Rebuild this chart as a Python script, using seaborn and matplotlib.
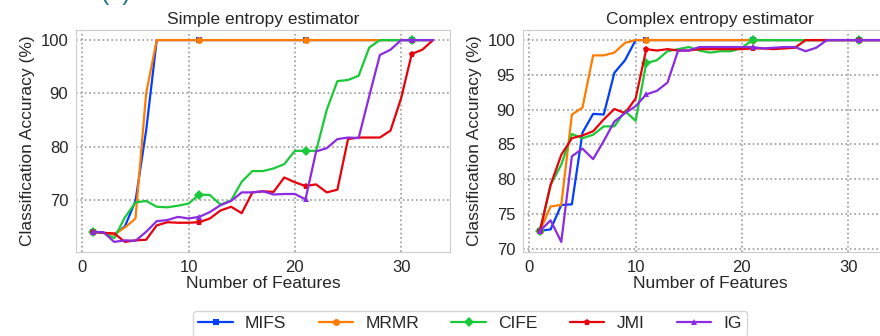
import matplotlib
matplotlib.use("Agg")
import matplotlib.pyplot as plt
import seaborn as sns

# number of selected features (x axis)
features = list(range(1, 34))

methods = ["MIFS", "MRMR", "CIFE", "JMI", "IG"]

# simple entropy estimator
mifs_simple = [64.0, 63.8, 63.5, 65.0, 69.8, 83.0, 100] + [100] * 26
mrmr_simple = [64.0, 63.8, 63.5, 64.8, 66.5, 90.0, 100] + [100] * 26
cife_simple = [64.0, 63.8, 62.8, 66.7, 69.5, 69.8, 68.7, 68.6, 68.9, 69.3, 71.0,
               70.9, 69.1, 69.9, 73.4, 75.4, 75.4, 75.9, 76.7, 79.2, 79.2, 79.2,
               86.9, 92.3, 92.5, 93.3, 98.6, 100, 100, 100, 100, 100, 100]
jmi_simple = [64.0, 63.8, 63.7, 62.1, 62.4, 62.5, 65.2, 65.8, 65.7, 65.7, 65.8,
              66.5, 68.0, 68.7, 67.5, 71.4, 71.6, 71.5, 74.2, 73.3, 72.6, 72.9,
              71.4, 71.9, 81.4, 81.7, 81.7, 81.7, 83.0, 89.1, 97.4, 98.2, 100]
ig_simple = [64.0, 63.9, 62.1, 62.4, 62.3, 64.0, 66.0, 66.2, 66.8, 66.5, 66.8,
             67.7, 69.0, 69.8, 71.4, 71.4, 71.6, 71.0, 71.1, 71.1, 70.1, 79.1,
             79.7, 81.4, 81.7, 81.6, 89.5, 97.2, 98.2, 100, 100, 100, 100]

# complex entropy estimator
mifs_complex = [72.6, 72.8, 76.3, 76.4, 86.7, 89.4, 89.3, 95.3, 97.1, 100] + [100] * 23
mrmr_complex = [72.6, 76.1, 76.3, 89.3, 90.3, 97.8, 97.8, 98.2, 99.6, 100] + [100] * 23
cife_complex = [72.6, 79.2, 82.1, 86.5, 85.9, 86.4, 87.6, 87.6, 89.8, 88.4, 96.7,
                97.1, 98.4, 98.7, 99.0, 98.5, 98.2, 98.4, 98.4, 98.9, 100] + [100] * 12
jmi_complex = [72.6, 79.2, 83.5, 85.9, 86.3, 86.9, 88.6, 90.1, 89.5, 91.6, 98.7,
               98.5, 98.7, 98.5, 98.5, 98.7, 98.7, 98.7, 98.7, 98.7, 98.8, 98.8,
               98.7, 98.8, 98.9, 100] + [100] * 7
ig_complex = [72.6, 74.1, 71.0, 83.3, 84.4, 82.9, 85.5, 88.3, 89.5, 90.5, 92.2,
              92.7, 93.9, 98.5, 98.5, 99.0, 99.0, 99.0, 99.0, 99.0, 99.0, 98.8,
              98.9, 99.0, 99.0, 98.4, 98.9, 100] + [100] * 5

simple = [mifs_simple, mrmr_simple, cife_simple, jmi_simple, ig_simple]
complex_ = [mifs_complex, mrmr_complex, cife_complex, jmi_complex, ig_complex]

colors = sns.color_palette("bright", 5)
markers = ["s", "o", "D", "p", "^"]

sns.set_style("whitegrid", {"grid.linestyle": ":", "grid.color": "0.6"})
plt.rcParams["font.family"] = ["Liberation Sans", "DejaVu Sans"]

fig = plt.figure(figsize=(8.8, 3.36), dpi=100)
ax1 = fig.add_axes([76 / 880, 84 / 336, 374 / 880, 222 / 336])
ax2 = fig.add_axes([523 / 880, 84 / 336, 374 / 880, 222 / 336])

panels = [(ax1, simple, "Simple entropy estimator", [70, 80, 90, 100]),
          (ax2, complex_, "Complex entropy estimator", [70, 75, 80, 85, 90, 95, 100])]

for ax, data, title, yt in panels:
    for name, vals, c, m in zip(methods, data, colors, markers):
        sns.lineplot(x=features, y=vals, ax=ax, color=c, marker=m, markersize=5,
                     markevery=10, markeredgewidth=0, linewidth=1.6, label=name)
    ax.set_title(title, fontsize=12.5, pad=4)
    ax.set_xlabel("Number of Features", fontsize=12.5, labelpad=1)
    ax.set_ylabel("Classification Accuracy (%)", fontsize=12.5)
    ax.tick_params(labelsize=12, pad=2)
    ax.set_xticks([0, 10, 20, 30])
    ax.set_yticks(yt)
    ax.grid(True, linewidth=1.2)
    ax.get_legend().remove()

handles, labels = ax1.get_legend_handles_labels()
fig.legend(handles, labels, loc="upper left", bbox_to_anchor=(193 / 880, 25 / 336),
           ncol=5, fontsize=12.5, frameon=True, handlelength=2.0, handletextpad=0.7,
           columnspacing=1.85, borderpad=0.3, borderaxespad=0)

fig.text(0.132, 1.0, "(a)", color="#1f6f8f", fontsize=18, ha="center", va="baseline")

fig.savefig("out.png", dpi=100)
